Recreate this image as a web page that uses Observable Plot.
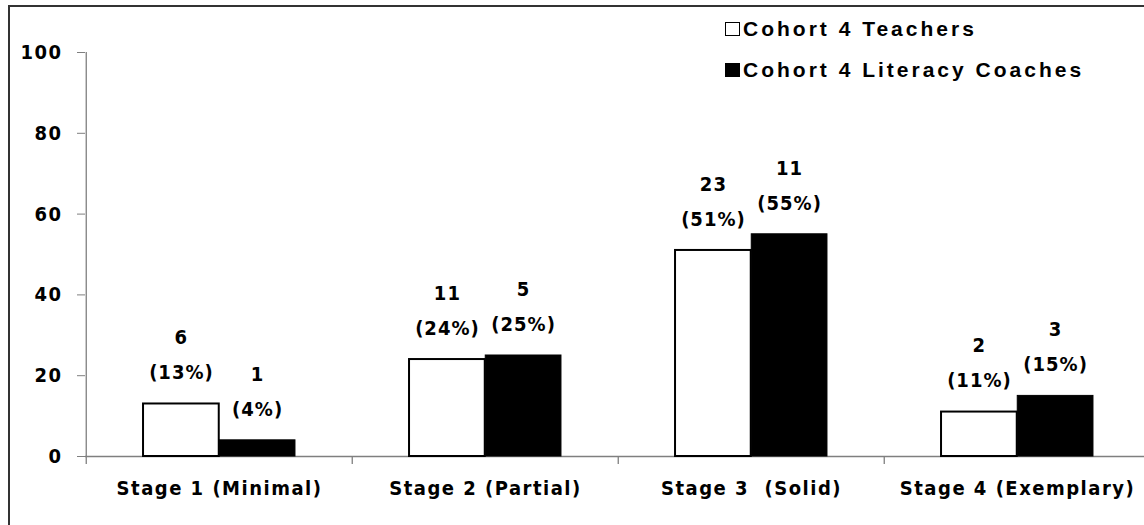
<!DOCTYPE html>
<html>
<head>
<meta charset="utf-8">
<script src="https://cdn.jsdelivr.net/npm/d3@7"></script>
<script src="https://cdn.jsdelivr.net/npm/@observablehq/plot@0.6"></script>
<style>
  html, body { margin: 0; padding: 0; background: #fff; }
  #wrap { position: relative; width: 1144px; height: 525px; overflow: hidden; background: #fff; }
  #frame { position: absolute; left: 8px; top: 5px; width: 1200px; height: 600px;
           border-left: 2px solid #333; border-top: 2px solid #333; pointer-events: none; }
  #legend { position: absolute; left: 725px; top: 18px; font-family: "Liberation Sans", Arial, sans-serif;
            font-weight: bold; font-size: 21px; letter-spacing: 3px; color: #000; }
  #legend .row { display: flex; align-items: center; height: 22px; margin-bottom: 19px; white-space: nowrap; }
  #legend .sw { width: 13px; height: 12px; border: 1.5px solid #000; margin-right: 3px; box-sizing: content-box; }
  .lbl text { letter-spacing: 1px; }
</style>
</head>
<body>
<div id="wrap">
  <div id="chart"></div>
  <div id="frame"></div>
  <div id="legend"></div>
</div>
<script>
const categories = ["Stage 1 (Minimal)", "Stage 2 (Partial)", "Stage 3  (Solid)", "Stage 4 (Exemplary)"];
const seriesNames = ["Cohort 4 Teachers", "Cohort 4 Literacy Coaches"];
const seriesColors = ["#ffffff", "#000000"];
const teacherPct = [13, 24, 51, 11];
const teacherCount = [6, 11, 23, 2];
const coachPct = [4, 25, 55, 15];
const coachCount = [1, 5, 11, 3];
const yTicks = [0, 20, 40, 60, 80, 100];

const teachers = categories.map((c, i) => ({category: c, pct: teacherPct[i], count: teacherCount[i]}));
const coaches = categories.map((c, i) => ({category: c, pct: coachPct[i], count: coachCount[i]}));

const xRange = [85, 1151];
const bw = (xRange[1] - xRange[0]) / categories.length;
const outer = bw * 0.214;
const half = bw * 0.5;
const shift = bw * 0.143;
const axisColor = "#7f7f7f";
const labelFont = 20;
const lbl = {fontSize: labelFont, fill: "#000", className: "lbl"};

const chart = Plot.plot({
  width: 1144,
  height: 525,
  marginLeft: 85,
  marginRight: 0,
  marginTop: 52,
  marginBottom: 69,
  style: {fontFamily: "'DejaVu Sans Condensed', 'DejaVu Sans', sans-serif", fontStretch: "condensed", fontWeight: "bold", fontSize: "20px", letterSpacing: "1.5px", color: "#000", background: "transparent", whiteSpace: "pre", overflow: "visible"},
  x: {domain: categories, range: xRange, padding: 0, label: null},
  y: {domain: [0, 100], label: null},
  marks: [
    Plot.axisY({ticks: yTicks, tickSize: 8, tickPadding: 15, stroke: axisColor, fill: "#000", label: null, fontSize: 20}),
    Plot.axisX({tickSize: 0, tickPadding: 24, label: null, fill: "#000", fontSize: 20}),
    Plot.ruleX([categories[0]], {dx: -half, y1: -2, y2: 100, stroke: axisColor, strokeWidth: 1.3}),
    Plot.ruleX(categories.slice(1), {dx: -half, y1: -2, y2: 0, stroke: axisColor, strokeWidth: 1.3}),
    Plot.ruleY([0], {stroke: axisColor, strokeWidth: 1.5}),
    Plot.barY(teachers, {x: "category", y: "pct", fill: seriesColors[0], stroke: "#000", strokeWidth: 2, insetLeft: outer, insetRight: half}),
    Plot.barY(coaches, {x: "category", y: "pct", fill: seriesColors[1], stroke: "#000", strokeWidth: 1, insetLeft: half, insetRight: outer}),
    Plot.text(teachers, {x: "category", y: "pct", text: d => `(${d.pct}%)`, dx: -shift, dy: -31, ...lbl}),
    Plot.text(teachers, {x: "category", y: "pct", text: d => `${d.count}`, dx: -shift, dy: -66, ...lbl}),
    Plot.text(coaches, {x: "category", y: "pct", text: d => `(${d.pct}%)`, dx: shift, dy: -31, ...lbl}),
    Plot.text(coaches, {x: "category", y: "pct", text: d => `${d.count}`, dx: shift, dy: -66, ...lbl})
  ]
});
document.getElementById("chart").appendChild(chart);

const legend = document.getElementById("legend");
seriesNames.forEach((name, i) => {
  const row = document.createElement("div");
  row.className = "row";
  const sw = document.createElement("div");
  sw.className = "sw";
  sw.style.background = seriesColors[i];
  const t = document.createElement("span");
  t.textContent = name;
  row.appendChild(sw);
  row.appendChild(t);
  legend.appendChild(row);
});
</script>
</body>
</html>
